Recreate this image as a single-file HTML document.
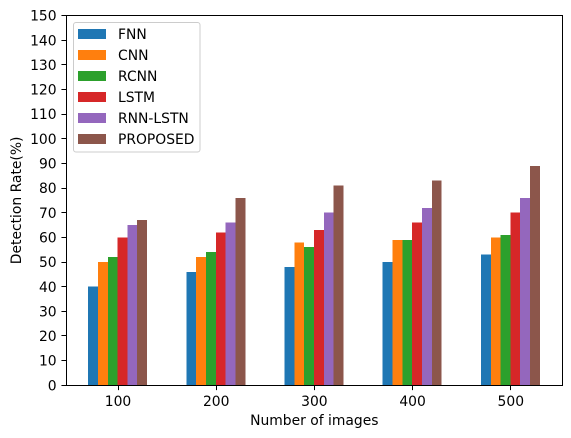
<!DOCTYPE html>
<html lang="en">
<head>
<meta charset="utf-8">
<title>Detection Rate by Number of Images</title>
<style>
html,body{margin:0;padding:0;background:#fff;}
svg{display:block;}
text{font-family:"DejaVu Sans","Liberation Sans",sans-serif;font-size:13.89px;fill:#000;}
</style>
</head>
<body>
<svg id="chart" xmlns="http://www.w3.org/2000/svg" width="571" height="438" viewBox="0 0 571 438"></svg>
<script>
const categories = ['100', '200', '300', '400', '500'];
const seriesNames = ['FNN', 'CNN', 'RCNN', 'LSTM', 'RNN-LSTN', 'PROPOSED'];
const fnnValues = [40, 46, 48, 50, 53];
const cnnValues = [50, 52, 58, 59, 60];
const rcnnValues = [52, 54, 56, 59, 61];
const lstmValues = [60, 62, 63, 66, 70];
const rnnLstnValues = [65, 66, 70, 72, 76];
const proposedValues = [67, 76, 81, 83, 89];
const yTicks = [0, 10, 20, 30, 40, 50, 60, 70, 80, 90, 100, 110, 120, 130, 140, 150];
const xAxisTitle = 'Number of images';
const yAxisTitle = 'Detection Rate(%)';

const allSeries = [fnnValues, cnnValues, rcnnValues, lstmValues, rnnLstnValues, proposedValues];
const colors = ['#1f77b4', '#ff7f0e', '#2ca02c', '#d62728', '#9467bd', '#8c564b'];

const plotLeft = 66.3, plotRight = 562.3, plotTop = 15.5, plotBottom = 385.3;
const yMax = 150;
const groupStep = 98.2, firstGroupX = 118, barWidth = 9.82;

function yScale(v) { return plotBottom - (v / yMax) * (plotBottom - plotTop); }
function xScale(i) { return firstGroupX + i * groupStep; }
function snap(p) { return Math.floor(p) + 0.5; }

const svg = document.getElementById('chart');
const NS = 'http://www.w3.org/2000/svg';
function make(tag, attrs, parent) {
  const el = document.createElementNS(NS, tag);
  for (const k in attrs) el.setAttribute(k, attrs[k]);
  (parent || svg).appendChild(el);
  return el;
}

const bg = make('rect', {x: 0, y: 0, width: 571, height: 438, fill: '#fff'});



allSeries.forEach(function (values, s) {
  const group = make('g', {fill: colors[s], 'shape-rendering': 'crispEdges'});
  
  
  values.forEach(function (v, i) {
    const x = xScale(i) - 0.4 + (s - 3) * barWidth;
    const bar = make('rect', {x: x.toFixed(2), y: yScale(v).toFixed(2), width: barWidth, height: (plotBottom - yScale(v)).toFixed(2)}, group);
    
    
  });
});

const frame = make('rect', {x: snap(plotLeft), y: snap(plotTop), width: snap(plotRight) - snap(plotLeft), height: snap(plotBottom) - snap(plotTop), fill: 'none', stroke: '#000', 'stroke-width': 1});



yTicks.forEach(function (t) {
  const y = yScale(t);
  const tick = make('line', {x1: plotLeft - 4.86, x2: plotLeft, y1: snap(y), y2: snap(y), stroke: '#000', 'stroke-width': 1});
  
  
  const label = make('text', {x: plotLeft - 9.7, y: y + 5.1, 'text-anchor': 'end'});
  label.textContent = t;
  
  
});

categories.forEach(function (c, i) {
  const x = xScale(i);
  const tick = make('line', {x1: snap(x), x2: snap(x), y1: plotBottom, y2: plotBottom + 4.86, stroke: '#000', 'stroke-width': 1});
  
  
  const label = make('text', {x: x, y: plotBottom + 20.5, 'text-anchor': 'middle'});
  label.textContent = c;
  
  
});

const xTitle = make('text', {x: (plotLeft + plotRight) / 2, y: 425, 'text-anchor': 'middle'});
xTitle.textContent = xAxisTitle;



const yTitle = make('text', {x: 0, y: 0, 'text-anchor': 'middle', transform: 'translate(21 ' + ((plotTop + plotBottom) / 2) + ') rotate(-90)'});
yTitle.textContent = yAxisTitle;



const legend = make('g', {});


const legendBox = make('rect', {x: 73.5, y: 22.5, width: 126.5, height: 129.5, rx: 2.5, fill: '#fff', 'fill-opacity': 0.8, stroke: '#ccc', 'stroke-width': 1}, legend);


seriesNames.forEach(function (name, s) {
  const rowY = 29 + s * 21;
  const swatch = make('rect', {x: 78, y: rowY, width: 28, height: 9.8, fill: colors[s], 'shape-rendering': 'crispEdges'}, legend);
  
  
  const label = make('text', {x: 118, y: rowY + 10}, legend);
  label.textContent = name;
  
  
});
</script>
</body>
</html>
